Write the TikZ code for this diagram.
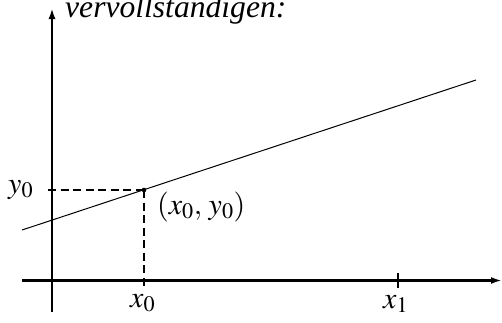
\documentclass[tikz,border=0pt]{standalone}
\usepackage{mathptmx}
\usepackage{fontspec}
\setmainfont{Liberation Serif}
\usetikzlibrary{arrows.meta}
\begin{document}
\begin{tikzpicture}[x=1pt,y=-1pt,
  axis/.style={line width=2.2pt,-{Latex[length=11pt,width=7pt]}},
  dashline/.style={line width=2.2pt,dash pattern=on 8pt off 4.5pt},
  lbl/.style={inner sep=0pt,anchor=base west,font=\fontsize{30}{36}\selectfont}]
\useasboundingbox (0,0) rectangle (502,322);
% axes
\coordinate (xa0) at (22,280.5);
\coordinate (xa1) at (502,280.5);
\coordinate (ya0) at (52,312);
\coordinate (ya1) at (52,8);
\draw[axis] (xa0) -- (xa1);
\draw[axis] (ya0) -- (ya1);
% function line
\coordinate (l0) at (22,230);
\coordinate (l1) at (476,80);
\draw[line width=1pt] (l0) -- (l1);
% point
\coordinate (P) at (144,190);
\coordinate (Py) at (48,190);
\coordinate (Px) at (144,288);
\draw[dashline] (Py) -- (P);
\draw[dashline] (P) -- (Px);
\fill (P) circle (2.3pt);
% tick x1
\coordinate (t0) at (398,273);
\coordinate (t1) at (398,288);
\draw[line width=2.2pt] (t0) -- (t1);
% labels
\node[lbl,font=\fontsize{31.6}{38}\selectfont] (title) at (65,17) {\textit{vervollständigen:}};
\node[lbl] (ylab) at (8,193) {$y_0$};
\node[lbl] (plab) at (157,214) {$(x_0,\,y_0)$};
\node[lbl] (x0lab) at (130,307) {$x_0$};
\node[lbl] (x1lab) at (383,308) {$x_1$};
\end{tikzpicture}
\end{document}
